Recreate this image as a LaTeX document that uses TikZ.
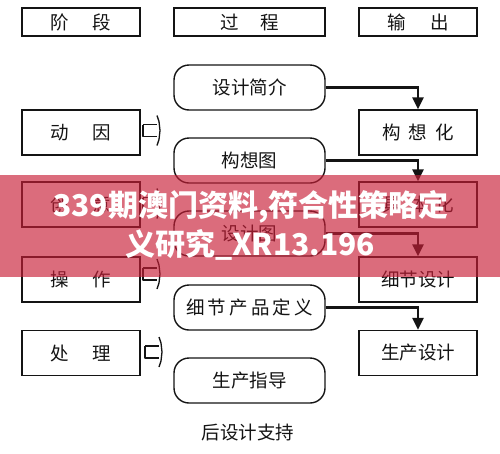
\documentclass[tikz,border=0pt]{standalone}
\usepackage{fontspec}
\newfontfamily\cjk{Noto Sans CJK SC}
\usetikzlibrary{arrows.meta}
\definecolor{ink}{rgb}{0.08,0.08,0.08}
\definecolor{band}{RGB}{200,30,55}
\tikzset{
  basebox/.style={draw=ink, line width=1.4pt, inner sep=0pt, text=ink,
    font=\cjk\fontsize{18.5}{18.5}\selectfont},
  sbox/.style={basebox, minimum width=118pt, minimum height=45pt},
  hbox/.style={basebox, minimum height=28pt},
  oval/.style={basebox, rounded corners=15pt, minimum width=151pt, minimum height=45pt},
  arr/.style={draw=ink, line width=2.6pt, -{Triangle[length=12pt,width=11pt]}},
  brk/.style={draw=ink, line width=1.3pt, line join=round},
  pics/feed/.style={code={
    \draw[brk] (0,-6) -- (14,-6) (0,-6) -- (0,6) -- (14,6);
    \draw[brk] (14,-15) -- (16,-9) -- (17,0) -- (16,9) -- (14,15);
  }}
}
\begin{document}
\begin{tikzpicture}[x=1pt,y=-1pt]
\useasboundingbox (0,0) rectangle (500,453);
\fill[white] (0,0) rectangle (500,453);
% headers
\node[hbox, minimum width=118pt] (h1) at (81,22) {阶\hspace{24pt}段};
\node[hbox, minimum width=151pt] (h2) at (249.5,22) {过\hspace{22pt}程};
\node[hbox, minimum width=118pt] (h3) at (418,22) {输\hspace{25pt}出};
% left column
\node[sbox] (l1) at (81,132.5) {动\hspace{24pt}因};
\node[sbox] (l2) at (81,204.5) {创\hspace{24pt}意};
\node[sbox] (l3) at (81,279.5) {操\hspace{24pt}作};
\node[sbox] (l4) at (81,353) {处\hspace{24pt}理};
% feed symbols
\pic at (143,130.5) {feed};
\pic at (143,203.5) {feed};
\pic at (143,274) {feed};
\pic at (145,352) {feed};
% middle column
\node[oval] (m1) at (249.5,87.5) {设计简介};
\node[oval] (m2) at (249.5,160.5) {构想图};
\node[oval] (m3) at (249.5,233.5) {设计图};
\node[oval] (m4) at (249.5,307.5) {细\,节\,产\,品\,定\,义};
\node[oval] (m5) at (249.5,380.5) {生产指导};
\node[font=\cjk\fontsize{18.5}{18.5}\selectfont, text=ink] (post) at (248,432) {后设计支持};
% right column
\node[sbox] (r1) at (418,132.5) {构\hspace{8pt}想\hspace{8pt}化};
\node[sbox] (r2) at (418,204.5) {具\hspace{8pt}体\hspace{8pt}化};
\node[sbox] (r3) at (418,279.5) {细节设计};
\node[sbox] (r4) at (418,353) {生产设计};
% arrows
\draw[arr] (m1.east) -| (r1.north);
\draw[arr] (m2.east) -| (r2.north);
\draw[arr] (m3.east) -| (r3.north);
\draw[arr] (m4.east) -| (r4.north);
% overlay banner
\fill[band, opacity=0.65] (0,175) rectangle (500,277);
\node[font=\cjk\bfseries\fontsize{30}{30}\selectfont, text=white] (b1) at (251,207) {339期澳门资料,符合性策略定};
\node[font=\cjk\bfseries\fontsize{30}{30}\selectfont, text=white] (b2) at (250,245) {义研究\_XR13.196};
\end{tikzpicture}
\end{document}
